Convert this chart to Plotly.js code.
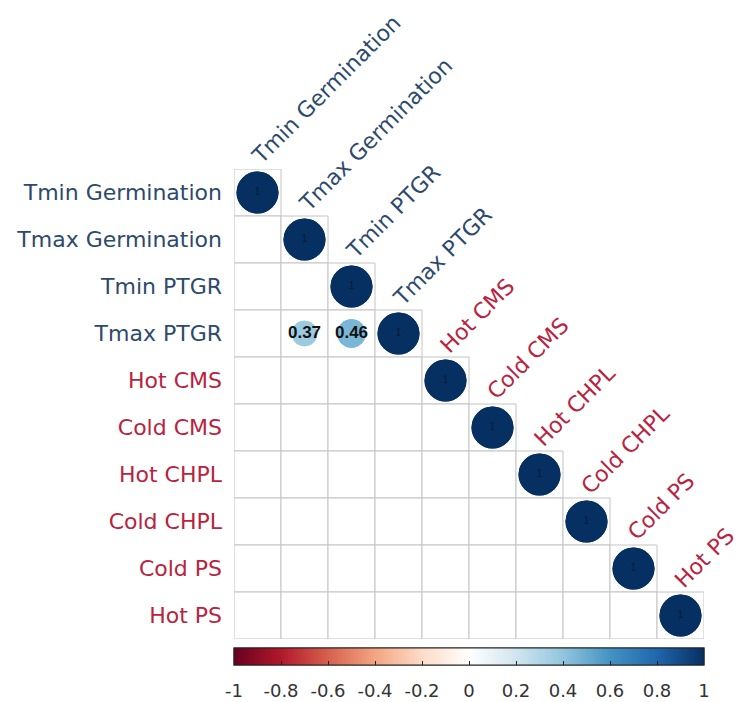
<!DOCTYPE html>
<html>
<head>
<meta charset="utf-8">
<script src="https://cdn.plot.ly/plotly-3.0.1.min.js"></script>
<style>html,body{margin:0;padding:0;background:#fff;}#chart{width:740px;height:702px;}</style>
</head>
<body>
<div id="chart"></div>
<script>
// Variables (row/column order)
const variables = ["Tmin Germination","Tmax Germination","Tmin PTGR","Tmax PTGR","Hot CMS","Cold CMS","Hot CHPL","Cold CHPL","Cold PS","Hot PS"];
// Group of each variable (0 = trait group shown in blue-grey, 1 = stress group shown in red)
const groups = [0,0,0,0,1,1,1,1,1,1];
// Lower-triangle correlations that are shown (null = blank / not significant)
const corr = [
  [1],
  [null,1],
  [null,null,1],
  [null,0.37,0.46,1],
  [null,null,null,null,1],
  [null,null,null,null,null,1],
  [null,null,null,null,null,null,1],
  [null,null,null,null,null,null,null,1],
  [null,null,null,null,null,null,null,null,1],
  [null,null,null,null,null,null,null,null,null,1]
];
const colorbarTicks = [-1,-0.8,-0.6,-0.4,-0.2,0,0.2,0.4,0.6,0.8,1];
const colorbarTickText = ["-1","-0.8","-0.6","-0.4","-0.2","0","0.2","0.4","0.6","0.8","1"];

const groupColors = ["#2D4A6C","#B8233F"];
const rdbu = ["#67001F","#B2182B","#D6604D","#F4A582","#FDDBC7","#FFFFFF","#D1E5F0","#92C5DE","#4393C3","#2166AC","#053061"];
const colorscale = rdbu.map((c,i)=>[i/(rdbu.length-1), c]);
const maxDiam = 42;

const n = variables.length;
const px=[], py=[], pc=[], ps=[], pt=[];
const dx=[], dy=[], dt=[];
corr.forEach((row,i)=>{
  row.forEach((v,j)=>{
    if (v===null || v===undefined) return;
    px.push(j); py.push(i); pc.push(v); ps.push(maxDiam*Math.sqrt(Math.abs(v)));
    if (i===j) { dx.push(j); dy.push(i); dt.push(String(v)); }
    else { pt.push({x:j,y:i,t:v.toFixed(2)}); }
  });
});

const shapes = [];
for (let i=0;i<n;i++){
  for (let j=0;j<=i;j++){
    shapes.push({type:'rect', xref:'x', yref:'y', x0:j-0.5, x1:j+0.5, y0:i-0.5, y1:i+0.5,
      line:{color:'#C4C4C4', width:1}, fillcolor:'#FFFFFF', layer:'below'});
  }
}

const cbBase = {orientation:'h', x:0.5, xanchor:'center', xref:'paper', y:-0.019, yanchor:'top', ypad:0, xpad:0,
  len:470, lenmode:'pixels', thickness:17, outlinewidth:1, outlinecolor:'#222', tickvals:colorbarTicks};

const traces = [
  {
    type:'scatter', mode:'markers', x:px, y:py, hoverinfo:'skip',
    marker:{size:ps, color:pc, cmin:-1, cmax:1, colorscale:colorscale, line:{width:0}, opacity:1,
      showscale:true,
      colorbar:Object.assign({}, cbBase, {ticktext:colorbarTickText, ticks:'outside', ticklen:10, tickcolor:'rgba(0,0,0,0)',
        tickfont:{family:'DejaVu Sans', size:18, color:'#333'}})
    }
  },
  {
    type:'scatter', mode:'markers', x:px, y:py, hoverinfo:'skip',
    marker:{size:ps, color:pc, cmin:-1, cmax:1, colorscale:colorscale, line:{width:0}, opacity:1,
      showscale:true,
      colorbar:Object.assign({}, cbBase, {showticklabels:false, ticks:'inside', ticklen:4, tickcolor:'#222'})
    }
  },
  {
    type:'scatter', mode:'text', x:pt.map(d=>d.x), y:pt.map(d=>d.y), text:pt.map(d=>d.t), hoverinfo:'skip',
    textfont:{family:'Liberation Sans', size:17, color:'#111', weight:'bold'}
  },
  {
    type:'scatter', mode:'text', x:dx, y:dy, text:dt, hoverinfo:'skip',
    textfont:{family:'Liberation Sans', size:10, color:'#0a1a30'}
  }
];

const annotations = variables.map((v,j)=>({
  xref:'x', yref:'y', x:j, y:j-0.5, text:v, showarrow:false, textangle:-45,
  xanchor:'left', yanchor:'bottom', xshift:-13, yshift:-3,
  font:{family:'DejaVu Sans', size:22, color:groupColors[groups[j]]}
}));

const layout = {
  width:740, height:702,
  margin:{l:234, r:36, t:169, b:63, pad:0, autoexpand:false},
  paper_bgcolor:'#FFFFFF', plot_bgcolor:'#FFFFFF',
  showlegend:false, hovermode:false,
  xaxis:{range:[-0.5,n-0.5], showgrid:false, zeroline:false, showticklabels:false, ticks:'', showline:false, fixedrange:true, automargin:false},
  yaxis:{range:[n-0.5,-0.5], showgrid:false, zeroline:false, ticks:'', showline:false, fixedrange:true, automargin:false,
    tickmode:'array', tickvals:variables.map((v,i)=>i),
    ticktext:variables.map((v,i)=>'<span style="color:'+groupColors[groups[i]]+'">'+v+'</span>'),
    ticklabelstandoff:11,
    tickfont:{family:'DejaVu Sans', size:22, color:'#333'}},
  shapes:shapes,
  annotations:annotations
};

Plotly.newPlot('chart', traces, layout, {displayModeBar:false, staticPlot:true});
</script>
</body>
</html>
